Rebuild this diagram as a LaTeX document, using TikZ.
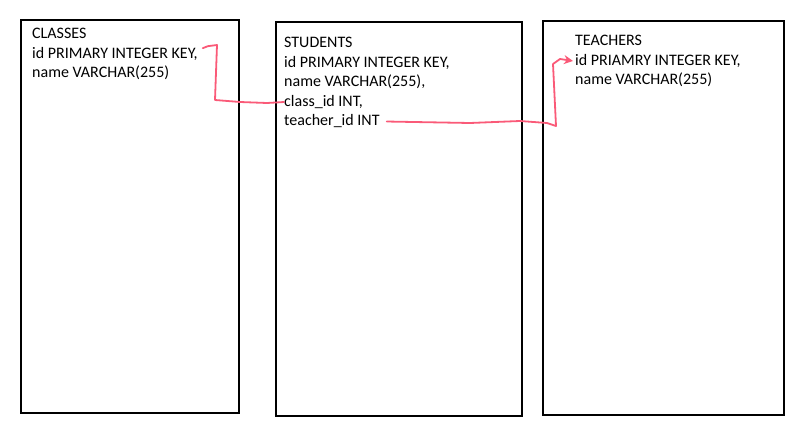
\documentclass[tikz,border=0pt]{standalone}
\usepackage{fontspec}
\setmainfont{Carlito}
\usetikzlibrary{arrows.meta}
\definecolor{linkred}{RGB}{250,90,120}
\tikzset{
    field/.style={anchor=base west, inner sep=0pt, font=\fontsize{16}{19}\selectfont},
    link/.style={draw=linkred, line width=1.8, line join=round, line cap=round}
}
\begin{document}
\begin{tikzpicture}[x=1pt, y=-1pt]
        \useasboundingbox (0,0) rectangle (800,425);

        \draw[line width=2.4] (21,20) rectangle (239,413);
        \draw[line width=2.4] (276,22) rectangle (522,416);
        \draw[line width=2.4] (543,21) rectangle (784,415);

        % CLASSES
        \node[field] (cls-title) at (32,39) {CLASSES};
        \node[field] (cls-id) at (32,58.5) {id PRIMARY INTEGER KEY,};
        \node[field] (cls-name) at (32,78) {name VARCHAR(255)};

        % STUDENTS
        \node[field] (stu-title) at (284,48) {STUDENTS};
        \node[field] (stu-id) at (284,67.5) {id PRIMARY INTEGER KEY,};
        \node[field] (stu-name) at (284,87) {name VARCHAR(255),};
        \node[field] (stu-class) at (284,106.5) {class\_id INT,};
        \node[field] (stu-teacher) at (284,126) {teacher\_id INT};

        % TEACHERS
        \node[field] (tch-title) at (575,46) {TEACHERS};
        \node[field] (tch-id) at (575,65.5) {id PRIAMRY INTEGER KEY,};
        \node[field] (tch-name) at (575,85) {name VARCHAR(255)};


        \draw[link] ([xshift=5pt, yshift=-1pt]cls-id.north east) -- ++(5,-2) -- (217,45) -- (215,100)
            -- (240,102) -- (267,103) -- (stu-class.west);

        \draw[link, -{Stealth[length=9pt, width=9pt]}] ([xshift=7pt]stu-teacher.east)
            -- (470,123) -- (520,121) -- (547,123) -- (556,126) -- (553,64)
            -- (560,59) -- ([xshift=-2pt]tch-id.west);
    \end{tikzpicture}
\end{document}
